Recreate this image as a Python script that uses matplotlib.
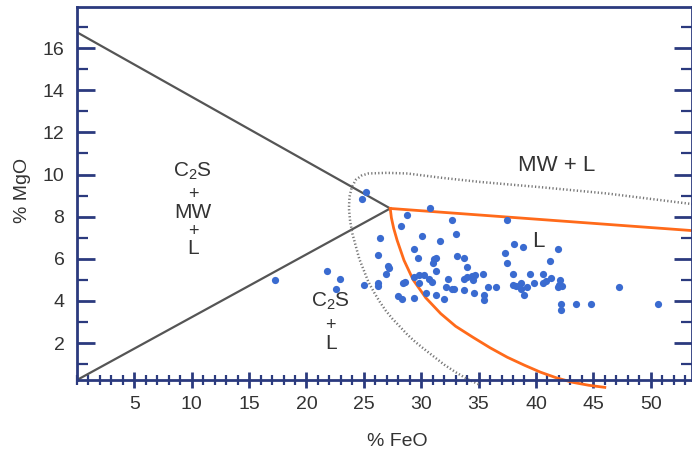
import numpy as np
import matplotlib
matplotlib.use('Agg')
import matplotlib.pyplot as plt
from matplotlib.ticker import MultipleLocator

plt.rcParams.update({
    'font.family': ['Liberation Sans', 'DejaVu Sans'],
    'mathtext.fontset': 'custom',
    'mathtext.rm': 'Liberation Sans',
    'mathtext.it': 'Liberation Sans',
})

NAVY = '#2b3a7e'
GREY = '#555555'
ORANGE = '#ff6a1a'
BLUE = '#3a6bd0'

# sample compositions (% FeO, % MgO)
feo = [17.3, 25.2, 24.8, 30.8, 28.8, 28.2, 32.7, 26.4, 30.1, 33.0, 31.6, 29.4,
       26.2, 29.7, 31.1, 31.3, 31.0, 33.1, 33.7, 27.1, 27.2, 26.9, 31.3, 34.0,
       21.8, 22.9, 22.6, 25.0, 26.2, 26.2, 29.4, 29.8, 30.2, 30.7, 30.9, 28.6,
       28.4, 29.8, 32.3, 32.2, 32.7, 32.9, 33.7, 33.7, 34.0, 30.4, 28.0, 28.3,
       29.4, 31.3, 32.0,
       37.5, 38.1, 38.9, 41.9, 37.3, 37.5, 41.2, 34.4, 34.5, 34.7, 35.4, 34.6,
       35.5, 35.5, 35.8, 36.5, 38.0, 39.5, 40.6, 38.0, 38.3, 38.7, 38.7, 39.2,
       39.0, 39.8, 40.6, 40.9, 41.3, 42.1, 42.0, 42.3, 41.9, 42.2, 42.2, 43.5,
       44.8, 47.2, 50.6]
mgo = [4.98, 9.15, 8.83, 8.39, 8.08, 7.56, 7.83, 7.01, 7.09, 7.17, 6.85, 6.49,
       6.18, 6.03, 6.00, 6.04, 5.81, 6.12, 6.03, 5.68, 5.57, 5.27, 5.42, 5.61,
       5.42, 5.04, 4.59, 4.75, 4.83, 4.70, 5.14, 5.22, 5.22, 5.06, 4.90, 4.90,
       4.83, 4.83, 5.04, 4.67, 4.59, 4.59, 4.52, 5.06, 5.14, 4.38, 4.22, 4.10,
       4.14, 4.30, 4.10,
       7.86, 6.72, 6.56, 6.49, 6.28, 5.81, 5.89, 5.17, 4.98, 5.22, 5.30, 4.38,
       4.30, 4.03, 4.67, 4.67, 5.30, 5.30, 5.30, 4.75, 4.70, 4.83, 4.59, 4.67,
       4.29, 4.83, 4.83, 4.94, 5.11, 4.98, 4.75, 4.73, 4.64, 3.84, 3.56, 3.84,
       3.84, 4.67, 3.84]

# phase boundaries
upper_x = [0.0, 27.3]
upper_y = [16.75, 8.39]
lower_x = [0.0, 27.3]
lower_y = [0.25, 8.39]
liq_top_x = [27.3, 53.6]
liq_top_y = [8.39, 7.34]
liq_curve_x = [27.3, 27.4, 27.6, 27.9, 28.5, 29.3, 30.4, 31.7, 33.0, 34.5, 36.0,
               37.5, 39.0, 40.4, 41.8, 43.2, 44.6, 46.0]
liq_curve_y = [8.39, 7.95, 7.45, 6.88, 5.93, 5.00, 4.15, 3.40, 2.80, 2.28, 1.78,
               1.33, 0.95, 0.62, 0.35, 0.14, 0.00, -0.10]
dot_x = [35.0, 34.0, 33.0, 32.0, 31.1, 30.3, 29.5, 28.8, 28.2, 27.5, 26.9, 26.4,
         25.9, 25.4, 25.0, 24.6, 24.3, 24.0, 23.8, 23.7, 23.75, 23.95, 24.3, 24.8,
         25.4, 27.0, 28.8, 31.7, 35.1, 40.4, 46.2, 53.6]
dot_y = [0.05, 0.30, 0.62, 0.98, 1.36, 1.70, 2.05, 2.40, 2.75, 3.15, 3.55, 3.95,
         4.40, 4.90, 5.45, 6.00, 6.60, 7.20, 7.80, 8.40, 8.95, 9.40, 9.75, 9.95,
         10.05, 10.08, 10.05, 9.85, 9.65, 9.40, 9.10, 8.60]

fig = plt.figure(figsize=(6.92, 4.51), dpi=100)
ax = fig.add_axes([77 / 692, 71 / 451, 1 - 77 / 692, (380 - 7) / 451])
ax.set_xlim(0, 53.6)
ax.set_ylim(0.25, 17.95)

ax.plot(upper_x, upper_y, color=GREY, lw=1.6)
ax.plot(lower_x, lower_y, color=GREY, lw=1.6)
ax.plot(dot_x, dot_y, color='#777777', lw=1.8, ls=(0, (0.5, 0.9)), clip_on=False)
ax.plot(liq_top_x, liq_top_y, color=ORANGE, lw=2)
ax.plot(liq_curve_x, liq_curve_y, color=ORANGE, lw=2, clip_on=False,
        solid_joinstyle='round')
ax.scatter(feo, mgo, s=27, color=BLUE, zorder=5, linewidths=0)

# phase field labels
tc = '#333333'
c2s = r'C$_\mathregular{2}$S'
ax.text(10.1, 10.15, c2s, ha='center', va='center', fontsize=15, color=tc)
ax.text(10.1, 9.05, '+', ha='center', va='center', fontsize=13, color=tc)
ax.text(10.1, 8.2, 'MW', ha='center', va='center', fontsize=15, color=tc)
ax.text(10.1, 7.3, '+', ha='center', va='center', fontsize=13, color=tc)
ax.text(10.1, 6.5, 'L', ha='center', va='center', fontsize=15, color=tc)
ax.text(22.1, 4.0, c2s, ha='center', va='center', fontsize=15, color=tc)
ax.text(22.1, 2.85, '+', ha='center', va='center', fontsize=13, color=tc)
ax.text(22.1, 2.0, 'L', ha='center', va='center', fontsize=15, color=tc)
ax.text(41.8, 10.45, 'MW + L', ha='center', va='center', fontsize=16, color=tc)
ax.text(40.2, 6.8, 'L', ha='center', va='center', fontsize=16, color=tc)

# axes styling
for side in ['left', 'bottom', 'top', 'right']:
    ax.spines[side].set_color(NAVY)
    ax.spines[side].set_linewidth(2)
ax.xaxis.set_minor_locator(MultipleLocator(1))
ax.yaxis.set_minor_locator(MultipleLocator(1))
ax.set_xticks([5, 10, 15, 20, 25, 30, 35, 40, 45, 50])
ax.set_yticks([2, 4, 6, 8, 10, 12, 14, 16])
ax.tick_params(axis='x', which='major', direction='inout', length=11, width=2,
               color=NAVY, labelsize=14, labelcolor='#333333', pad=6)
ax.tick_params(axis='x', which='minor', direction='inout', length=7, width=1.6, color=NAVY)
ax.tick_params(axis='y', which='major', direction='in', length=13, width=2,
               color=NAVY, labelsize=14, labelcolor='#333333', pad=9, right=True)
ax.tick_params(axis='y', which='minor', direction='in', length=8, width=1.6,
               color=NAVY, right=True)

fig.text(397 / 692, 1 - 441 / 451, '% FeO', ha='center', va='center', fontsize=14, color='#333333')
fig.text(23 / 692, 1 - 190 / 451, '% MgO', ha='center', va='center', rotation=90,
         fontsize=14, color='#333333')

fig.savefig('out.png', dpi=100)
